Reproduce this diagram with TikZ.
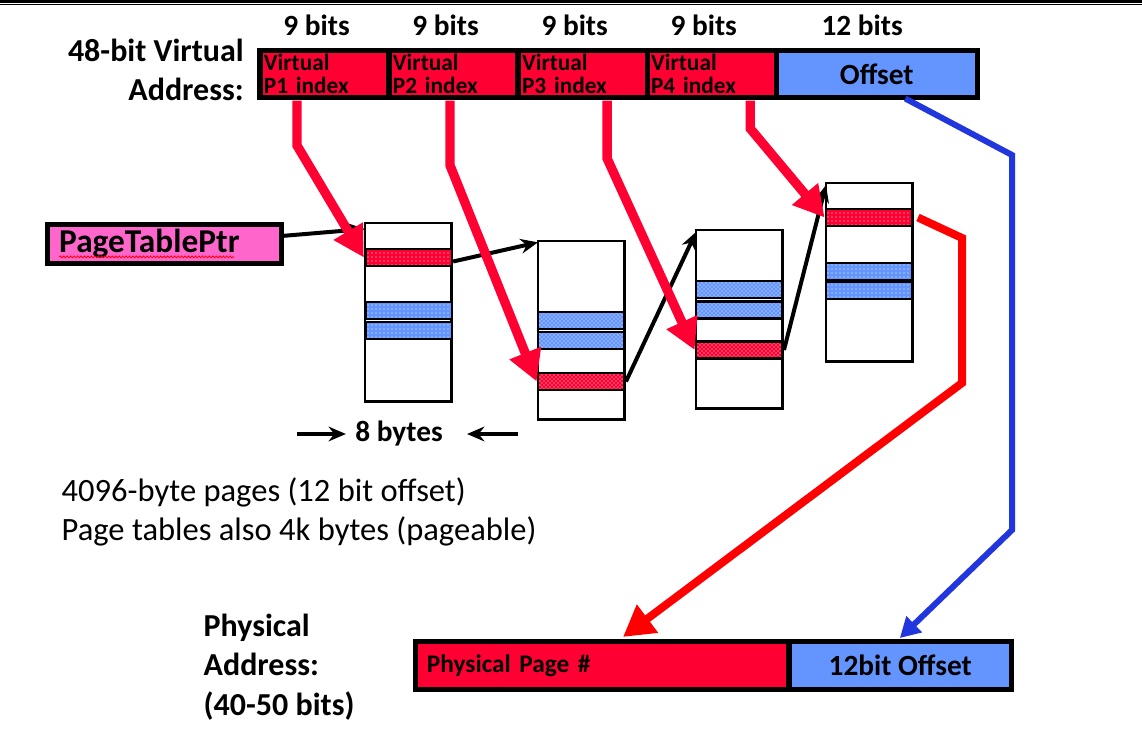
\documentclass[tikz,border=0pt]{standalone}
\usepackage{fontspec}
\setmainfont{Carlito}
\usepackage{tikz}
\usetikzlibrary{patterns,decorations.pathmorphing,arrows.meta,positioning}
\definecolor{idxred}{HTML}{FF0033}
\definecolor{offblue}{HTML}{6495FF}
\definecolor{ptrpink}{HTML}{FF66CC}
\definecolor{offline}{HTML}{2236DD}
\tikzset{>={Stealth[length=13pt,width=11pt]}}
\newcommand{\fsz}[2]{\fontsize{#1}{#2}\selectfont}

\begin{document}
\begin{tikzpicture}[x=0.75pt, y=-0.75pt,
              field/.style={draw, line width=4pt, outer sep=0pt, inner ysep=0pt, minimum height=35pt},
              idxcell/.style={field, fill=idxred, align=left, text width=91pt, inner xsep=2.9pt, font=\bfseries\fsz{17.5}{17.5}},
              tbl/.style={draw, line width=2pt, minimum width=65pt, minimum height=134pt, anchor=north west, outer sep=0pt},
              entry/.style={draw, line width=2pt, minimum width=65pt, minimum height=12.75pt},
              redent/.style={entry, preaction={fill=idxred}, preaction={pattern=#1, pattern color=white}},
              blueent/.style={entry, preaction={fill=offblue}, preaction={pattern=#1, pattern color=white}},
              lbl/.style={font=\bfseries\fsz{24}{29.5}},
              bits/.style={font=\bfseries\fsz{22}{22}, anchor=base},
              bw/.style={line width=3pt, ->},
              idx/.style={idxred, line width=7pt, -{Triangle[length=23pt,width=24pt]}},
              outred/.style={red, line width=6pt, -{Triangle[length=23pt,width=25pt]}},
              outblue/.style={offline, line width=4.5pt, -{Triangle[length=15pt,width=16pt]}},
             ]
\useasboundingbox (0,0) rectangle (1142,753);
\draw[line width=2pt] (0,1.3) -- (1142,1.3);
\draw[line width=0.9pt] (0,4.3) -- (1142,4.3);

% virtual address
\node[idxcell, anchor=north west] (p1) at (260,50.5) {Virtual\\P1 index};
\foreach \i/\j in {2/1,3/2,4/3}
  \node[idxcell, right=0pt of p\j] (p\i) {Virtual\\P\i\ index};
\node[field, fill=offblue, minimum width=150.75pt, font=\bfseries\fsz{22}{22}, right=0pt of p4] (off) {Offset};
\foreach \i in {1,...,4}
  \node[bits] (b\i) at ([xshift=-6pt,yshift=11pt]p\i.north) {9 bits};
\node[bits] (b5) at ([xshift=-11pt,yshift=11pt]off.north) {12 bits};
\node[lbl, align=right, left=8.7pt of p1, yshift=3pt] (va) {48-bit Virtual\\Address:};

% page table pointer
\node[field, line width=3.5pt, fill=ptrpink, anchor=north west, align=left, text width=158pt, inner xsep=8.75pt, minimum height=29.25pt, font=\bfseries\fsz{25}{25}] (ptr) at (47.5,224.5) {PageTablePtr};
\draw[red, line width=0.6pt, decorate, decoration={snake, amplitude=0.7pt, segment length=2.6pt}] ([xshift=8.75pt,yshift=-3pt]ptr.base west) -- ++(131pt,0);

% the four tables
\node[tbl] (t1) at (365,223) {};
\node[tbl] (t2) at (538,241) {};
\node[tbl] (t3) at (696,230) {};
\node[tbl] (t4) at (826,183) {};
\node[redent=dots] (t1r) at (408.5,257.5) {};
\node[blueent=dots] (t1b) at (408.5,310.5) {};
\node[blueent=dots] (t1c) at (408.5,330.5) {};
\node[blueent=crosshatch dots] (t2b) at (581.3,320.5) {};
\node[blueent=crosshatch dots] (t2c) at (581.3,340.5) {};
\node[redent=crosshatch dots] (t2r) at (581.3,381.5) {};
\node[blueent=crosshatch dots] (t3b) at (739.3,289.5) {};
\node[blueent=crosshatch dots] (t3c) at (739.3,310) {};
\node[redent=crosshatch dots] (t3r) at (739.3,350) {};
\node[redent=dots] (t4r) at (869.3,217.5) {};
\node[blueent=dots] (t4b) at (869.3,271.5) {};
\node[blueent=dots] (t4c) at (869.3,290.5) {};

\draw[bw] ([yshift=6pt]ptr.east) -- ([yshift=-4.5pt]t1.north west);
\draw[bw] ([yshift=-3pt]t1r.east) -- ([yshift=-1pt]t2.north west);
\draw[bw] (t2r.east) -- ([yshift=-1.5pt]t3.north west);
\draw[bw] (t3r.east) -- ([yshift=-1.5pt]t4.north west);

% index arrows
\draw[idx] ([xshift=27.75pt,yshift=-2.5pt]p1.south west) -- ++(0,45) -- (t1r.west);
\draw[idx] ([xshift=45.75pt,yshift=-2.5pt]p2.south west) -- ++(0,65) -- (t2r.west);
\draw[idx] ([xshift=66.75pt,yshift=-2.5pt]p3.south west) -- ++(0,58) -- (t3r.west);
\draw[idx] ([xshift=77.25pt,yshift=-2.5pt]p4.south west) -- ++(0,28) -- (t4r.west);

\node[font=\bfseries\fsz{22}{22}] (eight) at (399,434) {8 bytes};
\draw[bw] ([xshift=-40pt]eight.west) -- ([xshift=-3.5pt]eight.west);
\draw[bw] ([xshift=53pt]eight.east) -- ([xshift=14.7pt]eight.east);

\node[font=\fsz{24.4}{29.5}, align=left, anchor=west] (note) at (57,512) {4096-byte pages (12 bit offset)\\Page tables also 4k bytes (pageable)};

% physical address
\node[field, fill=idxred, anchor=north west, align=left, text width=262.8pt, inner xsep=8.6pt, minimum height=36pt, font=\bfseries\fsz{19}{19}] (ppn) at (415.5,641.5) {Physical Page \#};
\node[field, fill=offblue, minimum width=167pt, minimum height=36pt, font=\bfseries\fsz{22}{22}, right=0pt of ppn] (ppo) {12bit Offset};
\node[lbl, align=left, anchor=west] (pa) at (199,667) {Physical\\Address:\\(40-50 bits)};

\draw[outred] ([xshift=3pt]t4r.east) -- (962,238) -- (962,383) -- ([xshift=155.6pt,yshift=3.4pt]ppn.north west);
\draw[outblue] ([xshift=96.75pt,yshift=-1pt]off.south west) -- (1012,155) -- (1012,530) -- ([xshift=83.25pt,yshift=2.6pt]ppo.north west);
\end{tikzpicture}
\end{document}
